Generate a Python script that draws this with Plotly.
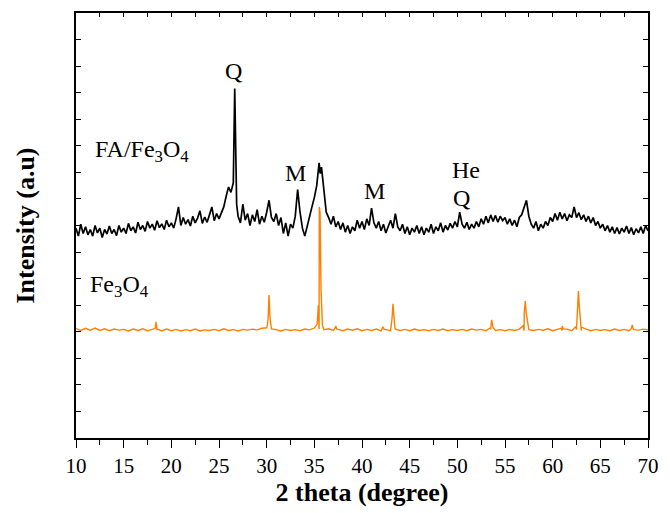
import numpy as np
import plotly.graph_objects as go

# ---------------- data ----------------
# FA/Fe3O4 pattern: intensity sampled every 0.25 deg from 10 to 70
fa_start, fa_step = 10.0, 0.25
fa_y = [
    790, 760, 805, 770, 795, 765, 785, 760, 800, 772, 790, 755, 785, 768, 798, 770, 785, 762, 800, 775, 790,
    770, 808, 780, 795, 772, 812, 785, 800, 778, 815, 790, 805, 782, 818, 792, 806, 785, 820, 795, 810,
    790, 825, 870, 800, 830, 805, 822, 798, 835, 810, 828, 855, 808, 832, 812, 840, 870, 818, 845, 825,
    850, 870, 910, 945, 925, 960, 1050, 835, 810, 880, 820, 845, 800, 840, 815, 860, 805, 835, 812, 850,
    895, 830, 815, 845, 800, 830, 770, 810, 760, 805, 790, 835, 935, 850, 790, 760, 800, 830, 870, 905,
    950, 1036, 1020, 920, 850, 830, 805, 835, 795, 815, 785, 810, 775, 800, 770, 795, 780, 820, 790, 815,
    785, 825, 800, 865, 810, 790, 815, 780, 805, 772, 800, 820, 790, 845, 795, 780, 805, 770, 795, 765,
    790, 775, 800, 770, 795, 765, 790, 775, 805, 770, 795, 780, 810, 775, 800, 783, 808, 790, 815, 795,
    850, 805, 790, 812, 785, 805, 790, 815, 795, 825, 805, 835, 810, 840, 815, 838, 812, 835, 818, 830,
    805, 825, 800, 820, 795, 830, 840, 870, 895, 835, 805, 790, 815, 780, 805, 790, 815, 800, 830, 815,
    845, 820, 850, 825, 845, 818, 840, 830, 870, 830, 848, 822, 840, 815, 835, 810, 830, 800, 815, 790,
    805, 780, 800, 775, 795, 770, 792, 768, 790, 775, 798, 770, 792, 765, 788, 772, 795, 770, 800, 780,
]
# extra points on sharp FA/Fe3O4 reflections
fa_peak_x = [26.65, 26.85, 35.62]
fa_peak_y = [1316, 880, 995]

# Fe3O4 pattern: baseline every 0.5 deg plus points on the reflections
fe_base_start, fe_base_step = 10.0, 0.5
fe_base_y = [
    412, 405, 413, 406, 414, 405, 411, 404, 410, 406, 409, 403, 410, 405, 411, 404, 409, 407, 403, 410,
    404, 409, 403, 408, 404, 410, 403, 407, 405, 409, 404, 411, 405, 408, 403, 409, 406, 410, 407, 413,
    415, 411, 408, 403, 409, 405, 408, 404, 410, 407, 414, 410, 408, 411, 405, 409, 404, 410, 406, 411,
    404, 409, 405, 410, 403, 408, 404, 410, 405, 409, 404, 410, 405, 408, 404, 409, 405, 410, 404, 408,
    405, 409, 404, 410, 406, 409, 404, 410, 405, 408, 404, 409, 405, 410, 404, 408, 405, 409, 406, 411,
    404, 409, 405, 410, 404, 408, 405, 410, 404, 409, 405, 408, 404, 410, 405, 409, 404, 408, 406, 410,
    407,
]
fe_peak_x = [18.3, 18.4, 18.5,
             30.05, 30.15, 30.25, 30.35, 30.45,
             35.3, 35.42, 35.52, 35.6, 35.7, 35.85,
             37.15, 37.25, 37.35,
             42.1, 42.2, 42.3,
             43.05, 43.15, 43.25, 43.35, 43.45,
             53.45, 53.6, 53.75,
             56.9, 57.02, 57.13, 57.22, 57.4,
             60.9, 61.0, 61.1,
             62.45, 62.58, 62.7, 62.8, 63.0,
             68.25, 68.35, 68.45]
fe_peak_y = [412, 437, 410,
             420, 450, 538, 452, 418,
             428, 500, 870, 850, 560, 425,
             412, 422, 410,
             411, 419, 410,
             420, 450, 505, 445, 414,
             414, 445, 416,
             422, 470, 516, 472, 418,
             413, 422, 411,
             420, 480, 553, 492, 418,
             411, 426, 410]

x_ticks = [10, 15, 20, 25, 30, 35, 40, 45, 50, 55, 60, 65, 70]

labels_text = ["Q", "FA/Fe<sub>3</sub>O<sub>4</sub>", "M", "M", "He", "Q", "Fe<sub>3</sub>O<sub>4</sub>"]
labels_x = [26.47, 11.8, 33.05, 41.3, 50.86, 50.45, 11.3]
labels_y = [1383, 1080, 998, 931, 1010, 905, 572]
labels_anchor = ["center", "left", "center", "center", "center", "center", "left"]

# ---------------- build series ----------------
fa_x_grid = [fa_start + fa_step * i for i in range(len(fa_y))]
fa_pts = sorted(list(zip(fa_x_grid, fa_y)) + list(zip(fa_peak_x, fa_peak_y)))
fa_x_all = [p[0] for p in fa_pts]
fa_y_all = [p[1] for p in fa_pts]

fe_x_grid = [fe_base_start + fe_base_step * i for i in range(len(fe_base_y))]
fe_pts = sorted(list(zip(fe_x_grid, fe_base_y)) + list(zip(fe_peak_x, fe_peak_y)))
fe_x_all = [p[0] for p in fe_pts]
fe_y_all = [p[1] for p in fe_pts]

FONT = "Liberation Serif"

fig = go.Figure()
fig.add_trace(go.Scatter(x=fe_x_all, y=fe_y_all, mode="lines",
                         line=dict(color="#ff8000", width=1.4), showlegend=False))
fig.add_trace(go.Scatter(x=fa_x_all, y=fa_y_all, mode="lines",
                         line=dict(color="#000000", width=1.7), showlegend=False))
# invisible trace to enable the top axis
fig.add_trace(go.Scatter(x=[10, 70], y=[0, 0], xaxis="x2", mode="lines",
                         line=dict(width=0), hoverinfo="skip", showlegend=False))

for t, x, y, a in zip(labels_text, labels_x, labels_y, labels_anchor):
    fig.add_annotation(x=x, y=y, xref="x", yref="y", text=t, showarrow=False,
                       xanchor=a, yanchor="middle",
                       font=dict(family=FONT, size=24, color="black"))

fig.update_layout(
    width=670, height=513,
    margin=dict(l=76, r=11, t=12, b=73),
    plot_bgcolor="white", paper_bgcolor="white",
    font=dict(family=FONT, size=21, color="black"),
    xaxis=dict(range=[10, 70], tickvals=x_ticks, ticktext=[str(v) for v in x_ticks],
               ticks="outside", ticklen=8, tickwidth=1.3, tickcolor="black",
               minor=dict(dtick=2.5, ticks="outside", ticklen=5, tickwidth=1.2, tickcolor="black"),
               showline=True, linecolor="black", linewidth=1.5, mirror=True,
               showgrid=False, zeroline=False,
               tickfont=dict(family=FONT, size=21),
               title=dict(text="<b>2 theta (degree)</b>", font=dict(family=FONT, size=26), standoff=6)),
    xaxis2=dict(range=[10, 70], overlaying="x", side="top", dtick=2.5, tick0=10,
                ticks="inside", ticklen=4, tickwidth=1.1, tickcolor="black",
                showticklabels=False, showgrid=False, zeroline=False, showline=False),
    yaxis=dict(range=[0, 1600], dtick=100, tick0=0, ticks="inside", ticklen=5, tickwidth=1.2,
               tickcolor="black", showticklabels=False, showline=True, linecolor="black",
               linewidth=1.5, mirror="ticks", showgrid=False, zeroline=False,
               title=dict(text="<b>Intensity (a.u)</b>", font=dict(family=FONT, size=26), standoff=32)),
)

fig.write_html("out.html")
